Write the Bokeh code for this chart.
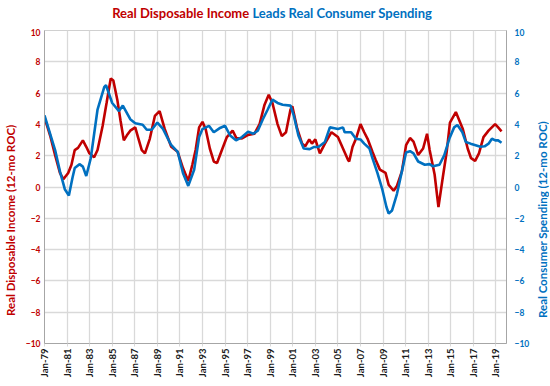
from math import pi
from bokeh.plotting import figure
from bokeh.layouts import column, row
from bokeh.models import Range1d, LinearAxis, FixedTicker, Div
from bokeh.embed import file_html
from bokeh.resources import INLINE

# ---- data (decimal years, 12-month rate of change) ----
income_years = [1979.0, 1979.5, 1979.94, 1980.37, 1980.67, 1981.1, 1981.39, 1981.68, 1981.97,
                1982.4, 1982.7, 1982.98, 1983.4, 1983.7, 1984.15, 1984.5, 1984.87, 1985.1,
                1985.45, 1985.74, 1986.03, 1986.3, 1986.6, 1987.04, 1987.33, 1987.62, 1987.9,
                1988.33, 1988.78, 1989.2, 1989.65, 1990.23, 1990.8, 1991.27, 1991.74, 1992.1,
                1992.4, 1992.7, 1993.0, 1993.28, 1993.65, 1994.0, 1994.29, 1994.72, 1995.16,
                1995.67, 1996.0, 1996.5, 1997.04, 1997.6, 1998.06, 1998.5, 1998.87, 1999.2,
                1999.65, 2000.03, 2000.4, 2000.8, 2000.96, 2001.4, 2001.83, 2002.1, 2002.46,
                2002.7, 2003.0, 2003.4, 2003.85, 2004.43, 2005.0, 2005.45, 2005.9, 2006.0,
                2006.3, 2006.6, 2007.0, 2007.33, 2007.63, 2008.06, 2008.35, 2008.72, 2009.22,
                2009.5, 2009.94, 2010.23, 2010.67, 2011.04, 2011.39, 2011.7, 2012.11, 2012.55,
                2012.9, 2013.13, 2013.57, 2013.91, 2014.29, 2014.64, 2014.93, 2015.45, 2016.07,
                2016.5, 2016.8, 2017.16, 2017.5, 2017.9, 2018.35, 2018.93, 2019.2, 2019.5]
income_values = [4.44, 3.29, 2.04, 0.9, 0.49, 0.9, 1.42, 2.36, 2.5,
                 2.98, 2.57, 2.15, 1.9, 2.36, 3.9, 5.37, 6.93, 6.8,
                 5.58, 4.23, 2.98, 3.3, 3.6, 3.81, 3.08, 2.36, 2.15,
                 3.08, 4.54, 4.85, 3.71, 2.57, 2.25, 1.21, 0.38, 1.42,
                 2.4, 3.81, 4.16, 3.7, 2.46, 1.63, 1.53, 2.36, 3.19,
                 3.6, 3.13, 3.1, 3.33, 3.4, 4.02, 5.26, 5.89, 5.37,
                 4.02, 3.25, 3.5, 4.95, 5.16, 3.71, 2.77, 2.6, 3.04,
                 2.77, 3.04, 2.15, 2.77, 3.5, 3.19, 2.46, 1.73, 1.63,
                 2.57, 3.08, 4.02, 3.5, 3.08, 2.25, 1.73, 1.11, 0.9,
                 0.14, -0.24, 0.07, 1.0, 2.67, 3.13, 2.9, 2.04, 2.46,
                 3.4, 2.36, 0.8, -1.28, 0.59, 2.25, 4.12, 4.79, 3.71,
                 2.46, 1.84, 1.67, 2.15, 3.19, 3.6, 4.02, 3.81, 3.56]

spending_years = [1979.0, 1979.5, 1979.94, 1980.37, 1980.8, 1981.16, 1981.48, 1981.68, 1982.1,
                  1982.4, 1982.7, 1983.1, 1983.7, 1984.3, 1984.45, 1985.0, 1985.6, 1985.94,
                  1986.6, 1987.04, 1987.7, 1988.06, 1988.5, 1989.0, 1989.5, 1990.2, 1990.8,
                  1991.27, 1991.74, 1992.26, 1992.7, 1993.0, 1993.57, 1994.0, 1994.5, 1995.0,
                  1995.45, 1995.97, 1996.5, 1997.04, 1997.5, 1997.9, 1998.35, 1998.78, 1999.2,
                  1999.65, 2000.1, 2000.8, 2001.1, 2001.5, 2001.97, 2002.5, 2002.9, 2003.27,
                  2003.85, 2004.29, 2004.7, 2005.0, 2005.45, 2005.6, 2006.17, 2006.6, 2007.0,
                  2007.33, 2007.8, 2008.06, 2008.5, 2008.93, 2009.3, 2009.5, 2009.8, 2010.23,
                  2010.67, 2011.04, 2011.39, 2011.7, 2012.11, 2012.7, 2013.13, 2013.42, 2014.0,
                  2014.43, 2014.87, 2015.3, 2015.59, 2016.03, 2016.33, 2016.76, 2017.2, 2017.63,
                  2018.0, 2018.35, 2018.65, 2018.95, 2019.2, 2019.5]
spending_values = [4.58, 3.4, 2.36, 1.0, -0.14, -0.55, 0.59, 1.21, 1.46,
                   1.3, 0.7, 1.84, 4.95, 6.4, 6.5, 5.37, 4.85, 5.2,
                   4.33, 4.08, 3.98, 3.66, 3.66, 4.12, 3.71, 2.71, 2.25,
                   0.9, 0.07, 1.1, 3.19, 3.7, 3.91, 3.5, 3.75, 3.91,
                   3.29, 2.98, 3.19, 3.54, 3.4, 3.6, 4.33, 4.95, 5.58,
                   5.37, 5.26, 5.2, 4.54, 3.29, 2.46, 2.42, 2.56, 2.56,
                   2.88, 3.81, 3.75, 3.7, 3.81, 3.5, 3.5, 3.08, 3.04,
                   2.77, 2.46, 1.84, 0.9, -0.14, -1.28, -1.69, -1.5, -0.45,
                   1.0, 2.21, 2.29, 2.15, 1.63, 1.42, 1.46, 1.32, 1.42,
                   2.04, 3.08, 3.81, 3.96, 3.5, 2.88, 2.77, 2.67, 2.57,
                   2.6, 2.77, 3.08, 2.98, 2.98, 2.83]

tick_years = [1979, 1981, 1983, 1985, 1987, 1989, 1991, 1993, 1995, 1997, 1999,
              2001, 2003, 2005, 2007, 2009, 2011, 2013, 2015, 2017, 2019]
tick_labels = ["Jan-79", "Jan-81", "Jan-83", "Jan-85", "Jan-87", "Jan-89", "Jan-91",
               "Jan-93", "Jan-95", "Jan-97", "Jan-99", "Jan-01", "Jan-03", "Jan-05",
               "Jan-07", "Jan-09", "Jan-11", "Jan-13", "Jan-15", "Jan-17", "Jan-19"]
value_ticks = [-10, -8, -6, -4, -2, 0, 2, 4, 6, 8, 10]

title_red = "Real Disposable Income"
title_blue = "Leads Real Consumer Spending"
left_title = "Real Disposable Income (12-mo ROC)"
right_title = "Real Consumer Spending (12-mo ROC)"

RED = "#C00000"
BLUE = "#0070C0"
FONT = "Lato"
W = 534
TITLE_H = 18
FIG_H = 352
SIDE_W = 12

title = Div(text=f'<span style="color:{RED}">{title_red}</span> '
                 f'<span style="color:{BLUE}">{title_blue}</span>',
            width=W, height=TITLE_H,
            styles={"font-family": FONT, "font-weight": "bold", "font-size": "13px",
                    "text-align": "center", "line-height": "16px"})


def side_title(text, color):
    html = (f'<div style="width:{SIDE_W}px;height:{FIG_H}px;box-sizing:border-box;'
            f'padding-bottom:22px;display:flex;align-items:center;justify-content:center;'
            f'writing-mode:vertical-rl;transform:rotate(180deg);white-space:nowrap;'
            f'font-family:{FONT};font-weight:bold;font-size:11.5px;line-height:{SIDE_W}px;'
            f'color:{color}">{text}</div>')
    return Div(text=html, width=SIDE_W, height=FIG_H)


p = figure(width=W - 2 * SIDE_W, height=FIG_H, output_backend="svg", toolbar_location=None,
           x_range=Range1d(1979, 2019.94), y_range=Range1d(-10, 10),
           min_border_left=18, min_border_right=22, min_border_top=2, min_border_bottom=30)
p.extra_y_ranges = {"right": Range1d(-10, 10)}

p.background_fill_color = "white"
p.border_fill_color = "white"
p.outline_line_color = "#D0D0D0"

p.xgrid.ticker = FixedTicker(ticks=tick_years)
p.ygrid.ticker = FixedTicker(ticks=value_ticks)
p.xgrid.grid_line_color = "#D9D9D9"
p.ygrid.grid_line_color = "#D9D9D9"
p.xgrid.grid_line_width = 1.3
p.ygrid.grid_line_width = 1.3

xa = p.xaxis[0]
xa.ticker = FixedTicker(ticks=tick_years)
xa.major_label_overrides = {y: l for y, l in zip(tick_years, tick_labels)}
xa.major_label_orientation = pi / 2
xa.major_label_text_font = FONT
xa.major_label_text_font_style = "bold"
xa.major_label_text_font_size = "9.5px"
xa.major_label_text_color = "#1a1a1a"
xa.major_label_standoff = 2
xa.axis_line_color = "#A6A6A6"
xa.major_tick_line_color = "#D9D9D9"
xa.major_tick_in = 0
xa.major_tick_out = 3
xa.minor_tick_in = 0
xa.minor_tick_out = 0
xa.minor_tick_line_color = None


def style_y(ax, color):
    ax.ticker = FixedTicker(ticks=value_ticks)
    ax.major_label_text_font = FONT
    ax.major_label_text_font_style = "bold"
    ax.major_label_text_font_size = "8.5px"
    ax.major_label_text_color = color
    ax.axis_line_color = "#A6A6A6"
    ax.major_tick_line_color = None
    ax.minor_tick_line_color = None
    ax.major_tick_in = 0
    ax.major_tick_out = 0
    ax.minor_tick_in = 0
    ax.minor_tick_out = 0


ya = p.yaxis[0]
style_y(ya, RED)
ya.major_label_standoff = 4

ra = LinearAxis(y_range_name="right")
style_y(ra, BLUE)
ra.major_label_standoff = 8
p.add_layout(ra, "right")

p.line(income_years, income_values, line_color=RED, line_width=2.6)
p.line(spending_years, spending_values, line_color=BLUE, line_width=2.6, y_range_name="right")

body = row(side_title(left_title, RED), p, side_title(right_title, BLUE), spacing=0)
layout = column(title, body, spacing=0)
open("out.html", "w").write(file_html(layout, INLINE))
